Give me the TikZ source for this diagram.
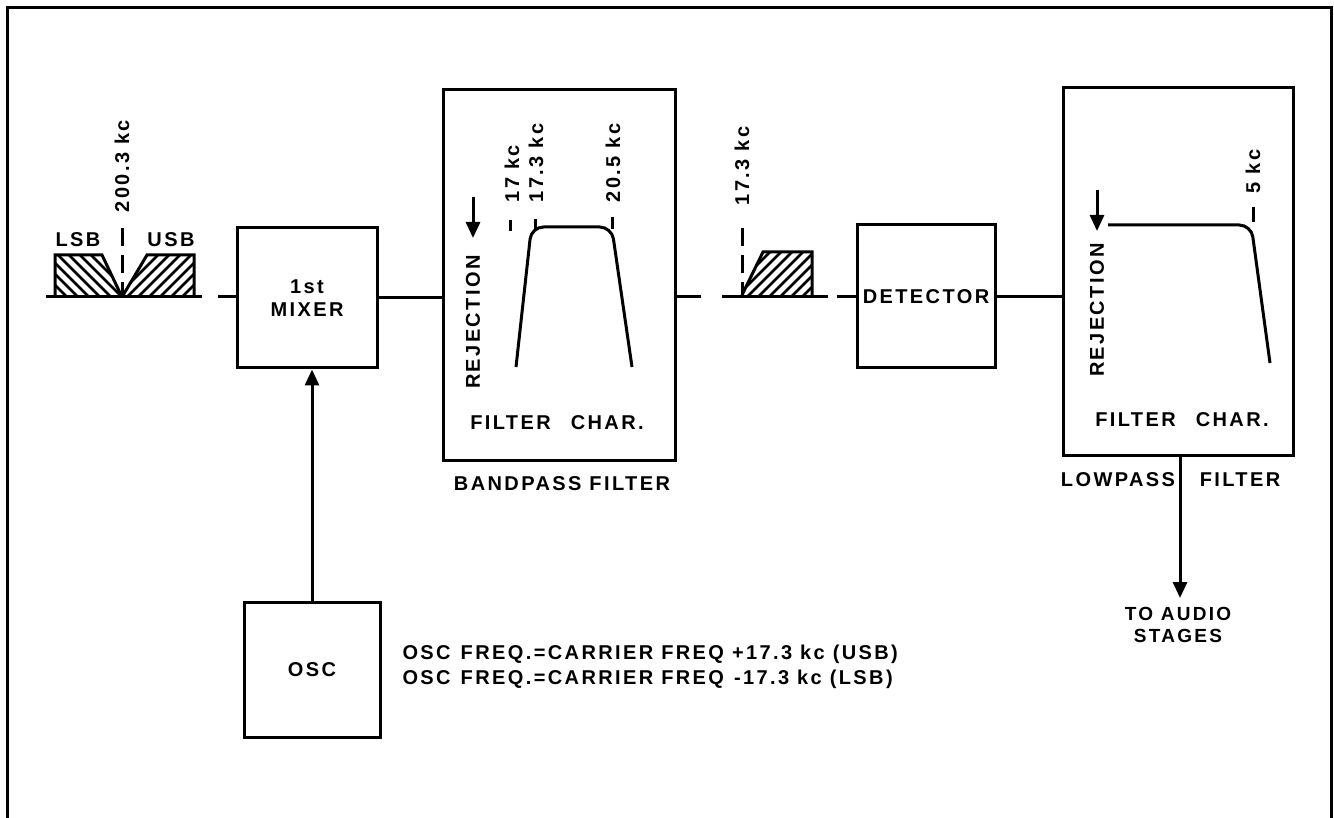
\documentclass[tikz,border=0pt]{standalone}
\usepackage{fontspec}
\setmainfont{Liberation Sans}[LetterSpace=12]
\usetikzlibrary{arrows.meta}
\newcommand\dlbl{\fontsize{20}{23}\selectfont\bfseries}
\newcommand\dsml{\fontsize{19}{22}\selectfont\bfseries}
\begin{document}
\begin{tikzpicture}[x=1pt,y=-1pt,line width=3pt,
  blk/.style={draw,line width=3pt,inner sep=0pt,font=\dlbl,align=center},
  lbl/.style={font=\dlbl,inner sep=0pt},
  rot/.style={font=\dlbl,inner sep=0pt,rotate=90,anchor=west},
  arr/.style={-{Triangle[length=16pt,width=14pt]}},
  hatch/.style={line width=2.5pt},
  dsh/.style={dash pattern=on 18pt off 9pt}]
\useasboundingbox (0,0) rectangle (1334,818);
% frame
\draw (7,818) -- (7,8) -- (1331,8) -- (1331,818);

% blocks
\node[blk,minimum width=140pt,minimum height=140pt] (mixer) at (307,298) {1st\\MIXER};
\node[blk,minimum width=232pt,minimum height=370pt] (bpf) at (559,275) {};
\node[blk,minimum width=138pt,minimum height=143pt] (det) at (926,296.5) {DETECTOR};
\node[blk,minimum width=230pt,minimum height=367pt] (lpf) at (1178,271.5) {};
\node[blk,minimum width=136pt,minimum height=135pt] (osc) at (312,669.5) {OSC};

% input spectrum
\coordinate (inA) at (46,297);
\coordinate (inB) at (202,297);
\coordinate (inC) at (218,297);
\draw (inA) -- (inB);
\draw (inC) -- (inC -| mixer.west);
\begin{scope}
  \clip (55,297) -- (55,255) -- (102,255) -- (122,297) -- cycle;
  \foreach \i in {0,...,12} \draw[hatch] (10+\i*11,240) -- ++(70,70);
\end{scope}
\draw (55,297) -- (55,255) -- (102,255) -- (122,297);
\begin{scope}
  \clip (122,297) -- (147,255) -- (194,255) -- (194,297) -- cycle;
  \foreach \i in {0,...,12} \draw[hatch] (70+\i*11,310) -- ++(70,-70);
\end{scope}
\draw (122,297) -- (147,255) -- (194,255) -- (194,297);
\draw[dsh] (122,228) -- (122,297);
\node[lbl] (lsb) at (78,240) {LSB};
\node[lbl] (usb) at (171,240) {USB};
\node[rot] (f200) at (122,214) {200.3 kc};

% mixer -> bandpass
\draw (mixer.east) -- (mixer.east -| bpf.west);
% osc -> mixer
\draw[arr] (osc.north) -- (osc.north |- mixer.south);

% bandpass filter contents
\draw[arr] (473,197) -- (473,238);
\node[lbl,rotate=90] (rej1) at (473,322) {REJECTION};
\draw[rounded corners=12pt] (516,367) -- (531.4,227) -- (611.7,227) -- (632,367);
\draw (510,220) -- (510,231);
\draw (535,219) -- (535,229);
\draw (612,217) -- (612,229);
\node[rot] (f17) at (512,204) {17 kc};
\node[rot] (f173) at (536,204) {17.3 kc};
\node[rot] (f205) at (613,204) {20.5 kc};
\node[lbl] (fc1) at (557,423) {FILTER\quad CHAR.};
\node[lbl] (bpl) at (562,484) {BANDPASS FILTER};

% bandpass -> detector with IF spectrum
\coordinate (ifA) at (701,297);
\coordinate (ifB) at (722,297);
\coordinate (ifC) at (828,297);
\coordinate (ifD) at (837,297);
\draw (bpf.east |- ifA) -- (ifA);
\draw (ifB) -- (ifC);
\draw (ifD) -- (ifD -| det.west);
\begin{scope}
  \clip (742,295) -- (763,252) -- (812,252) -- (812,295) -- cycle;
  \foreach \i in {0,...,10} \draw[hatch] (690+\i*11,310) -- ++(70,-70);
\end{scope}
\draw (742,295) -- (763,252) -- (812,252) -- (812,295);
\draw[dsh] (742,228) -- (742,295);
\node[rot] (f173b) at (742,207) {17.3 kc};

% detector -> lowpass
\draw (det.east) -- (det.east -| lpf.west);

% lowpass filter contents
\draw[arr] (1097,190) -- (1097,231);
\node[lbl,rotate=90] (rej2) at (1097,310) {REJECTION};
\draw[rounded corners=12pt] (1108,225) -- (1251.2,225) -- (1270,363);
\draw (1253,207) -- (1253,222);
\node[rot] (f5) at (1253,195) {5 kc};
\node[lbl] (fc2) at (1182,420) {FILTER\quad CHAR.};
\node[lbl] (lpl1) at (1118,480) {LOWPASS};
\node[lbl] (lpl2) at (1240,480) {FILTER};

% output
\coordinate (aud) at (1180,598);
\draw[arr] (lpf.south -| aud) -- (aud);
\node[font=\dsml,align=center,inner sep=0pt,anchor=north] (audt) at (1178,606) {TO AUDIO\\STAGES};

% osc formula
\node[font=\dlbl,align=left,inner sep=0pt,anchor=west] (form) at (401,667)
  {OSC\enspace FREQ.=CARRIER FREQ +17.3 kc (USB)\\[2pt]OSC\enspace FREQ.=CARRIER FREQ\enspace -17.3 kc (LSB)};
\end{tikzpicture}
\end{document}
